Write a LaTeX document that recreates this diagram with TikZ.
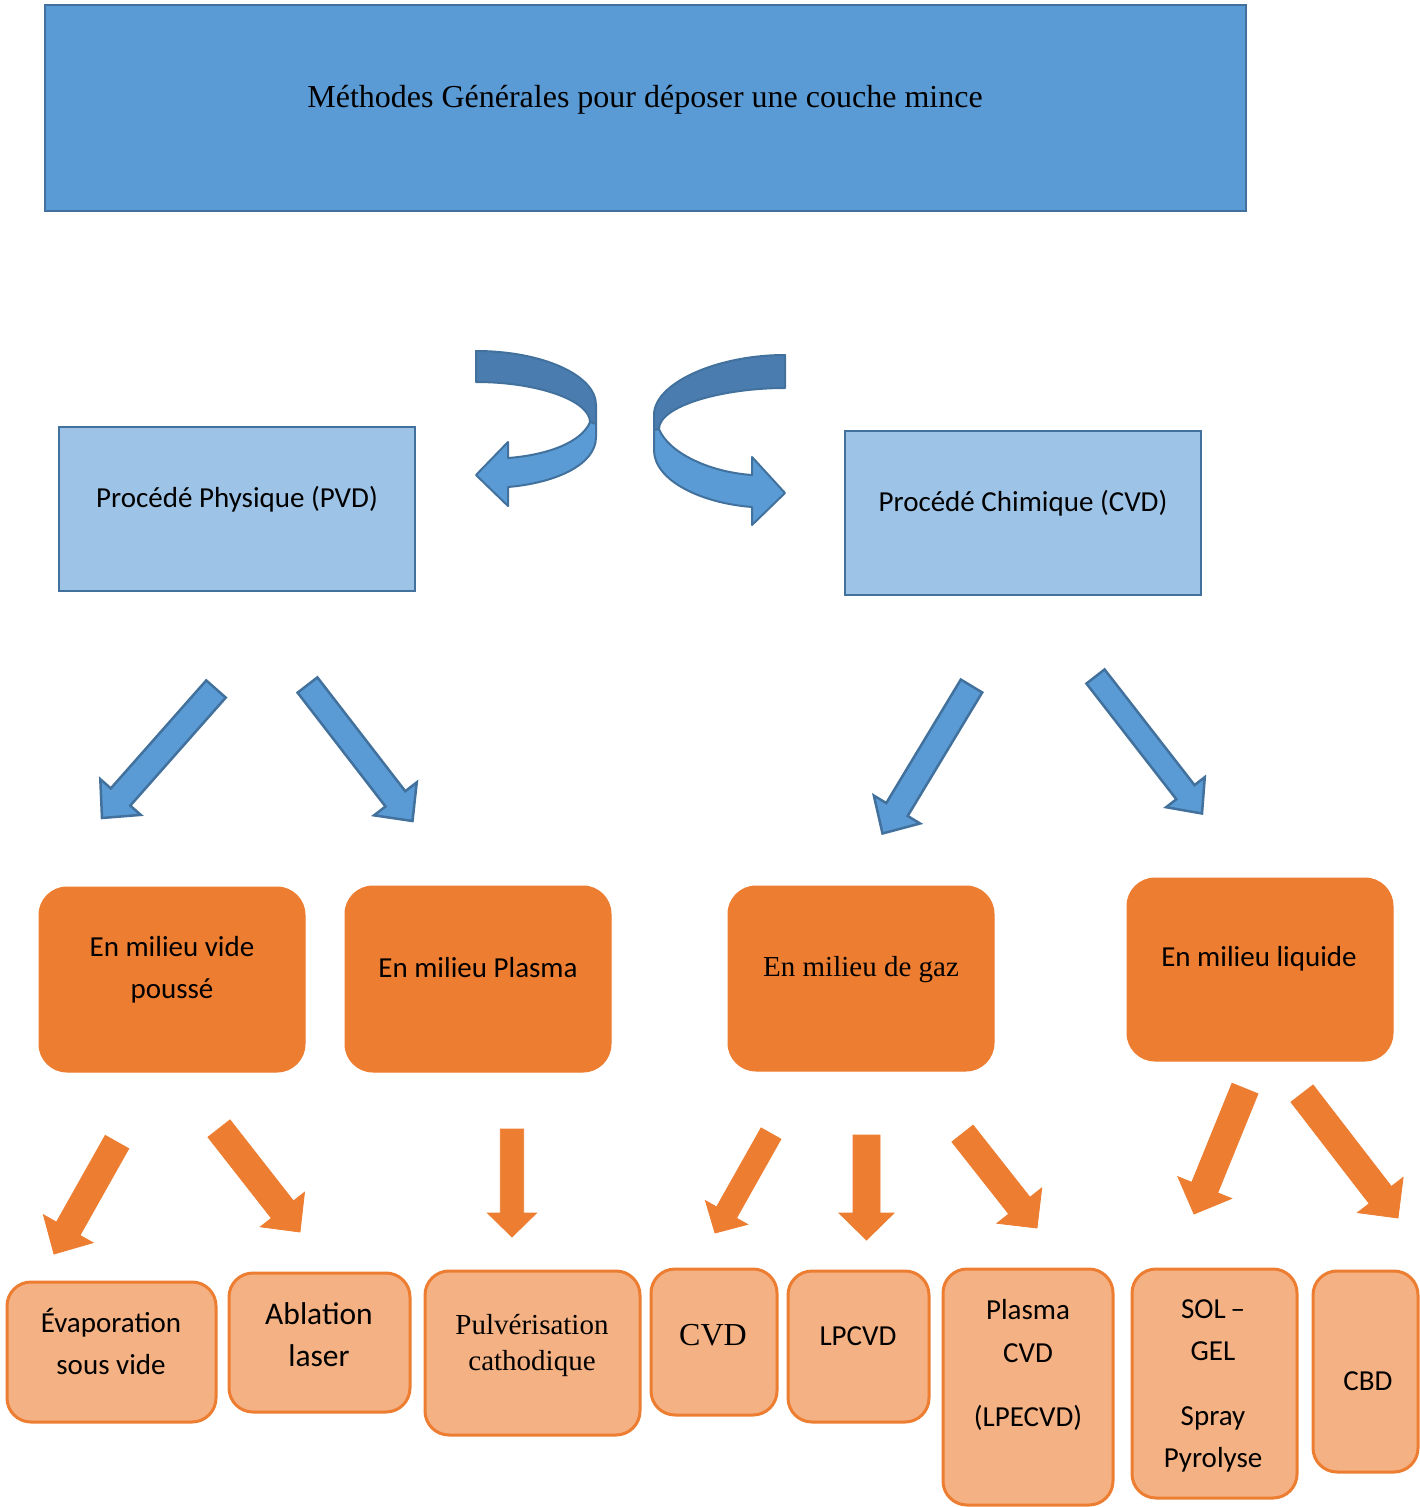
\documentclass[tikz,border=0pt]{standalone}
\usepackage{fontspec}
\setmainfont{Liberation Serif}
\newfontfamily\carl{Carlito}
\usetikzlibrary{calc}
\definecolor{tblue}{HTML}{5B9BD5}
\definecolor{tbord}{HTML}{41719C}
\definecolor{lblue}{HTML}{9DC3E6}
\definecolor{dblue}{HTML}{4A7CB0}
\definecolor{org}{HTML}{ED7D31}
\definecolor{lorg}{HTML}{F4B183}
\newcommand{\blockarr}[6]{%
  \coordinate (ba-H) at ($(#3)!#6!(#2)$);
  \draw[#1] ($(#2)!#4!90:(#3)$) -- ($(ba-H)!#4!90:(#3)$) -- ($(ba-H)!#5!90:(#3)$) -- (#3)
    -- ($(ba-H)!#5!-90:(#3)$) -- ($(ba-H)!#4!-90:(#3)$) -- ($(#2)!#4!-90:(#3)$) -- cycle;
}
\tikzset{
  titlebox/.style={draw=tbord, fill=tblue, line width=2.5pt, inner sep=0pt, outer sep=0pt},
  pbox/.style={draw=tbord, fill=lblue, line width=2.5pt, inner sep=0pt, outer sep=0pt},
  midbox/.style={draw=org, fill=org, line width=1pt, rounded corners=28pt, inner sep=0pt, outer sep=0pt},
  botbox/.style={draw=org, fill=lorg, line width=3pt, rounded corners=24pt, inner sep=0pt, outer sep=0pt},
  barrow/.style={fill=tblue, draw=tbord, line width=2.5pt, line join=miter},
  oarrow/.style={fill=org, draw=org, line width=0.8pt, line join=miter},
  stxt/.style={font=\carl\fontsize{29}{42}\selectfont, align=center, inner sep=0pt, text=black},
  rtxt/.style={font=\fontsize{29}{36}\selectfont, align=center, inner sep=0pt, text=black},
}
\begin{document}
\begin{tikzpicture}[x=1pt,y=-1pt]
\useasboundingbox (0,0) rectangle (1420,1507);

% title
\node[titlebox, minimum width=1201pt, minimum height=206pt] (title) at (645.5,108) {};
\node[rtxt, font=\fontsize{32}{38}\selectfont] (titletxt) at (645,100) {Méthodes Générales pour déposer une couche mince};

% curved arrows
\filldraw[fill=dblue, draw=tbord, line width=2pt, line join=round]
  (476,351) .. controls (542,351) and (596,375) .. (596,405) -- (596,424) -- (590,422)
  .. controls (590,401) and (539,382) .. (476,382) -- cycle;
\filldraw[fill=tblue, draw=tbord, line width=2pt, line join=round]
  (590,422) .. controls (582,442) and (548,455) .. (508,458) -- (508,442) -- (476,475) -- (508,506) -- (508,487)
  .. controls (555,483) and (596,465) .. (596,437) -- (596,424) -- cycle;
\filldraw[fill=dblue, draw=tbord, line width=2pt, line join=round]
  (785,355) .. controls (717,355) and (654,383) .. (654,415) -- (654,430) -- (659,429)
  .. controls (659,406) and (722,388) .. (785,388) -- cycle;
\filldraw[fill=tblue, draw=tbord, line width=2pt, line join=round]
  (659,429) .. controls (668,452) and (708,472) .. (752,475) -- (752,457) -- (785,493) -- (752,525) -- (752,507)
  .. controls (700,503) and (654,480) .. (654,450) -- (654,430) -- cycle;

% PVD / CVD
\node[pbox, minimum width=356pt, minimum height=164pt] (pvd) at (237,509) {};
\node[stxt] (pvdtxt) at (237,499) {Procédé Physique (PVD)};
\node[pbox, minimum width=356pt, minimum height=164pt] (cvd) at (1023,513) {};
\node[stxt] (cvdtxt) at (1023,503) {Procédé Chimique (CVD)};

% blue arrows
\coordinate (b1t) at (216,689);   \coordinate (b1h) at (102,818);
\coordinate (b2t) at (307.5,685); \coordinate (b2h) at (412.5,821);
\coordinate (b3t) at (971.5,686); \coordinate (b3h) at (882.5,833.5);
\coordinate (b4t) at (1095.5,676.5); \coordinate (b4h) at (1202,813.5);
\blockarr{barrow}{b1t}{b1h}{13pt}{27pt}{28pt}
\blockarr{barrow}{b2t}{b2h}{12.5pt}{27pt}{28pt}
\blockarr{barrow}{b3t}{b3h}{12.5pt}{27pt}{28pt}
\blockarr{barrow}{b4t}{b4h}{11.5pt}{24.5pt}{27pt}

% middle boxes
\node[midbox, minimum width=266pt, minimum height=185pt] (m1) at (172,979.5) {};
\node[stxt] (m1txt) at (172,970) {En milieu vide\\poussé};
\node[midbox, minimum width=266pt, minimum height=186pt] (m2) at (478,979) {};
\node[stxt] (m2txt) at (478,968) {En milieu Plasma};
\node[midbox, minimum width=266pt, minimum height=185pt] (m3) at (861,978.5) {};
\node[rtxt] (m3txt) at (861,970) {En milieu de gaz};
\node[midbox, minimum width=266pt, minimum height=183pt] (m4) at (1260,969.5) {};
\node[stxt] (m4txt) at (1259,959) {En milieu liquide};

% orange arrows
\coordinate (o1t) at (117,1142);    \coordinate (o1h) at (54,1254);
\coordinate (o2t) at (219,1128.5);  \coordinate (o2h) at (300,1232);
\coordinate (o3t) at (512,1129);    \coordinate (o3h) at (512,1237);
\coordinate (o4t) at (771,1133.5);  \coordinate (o4h) at (715,1233);
\coordinate (o5t) at (866.5,1135);  \coordinate (o5h) at (866.5,1240);
\coordinate (o6t) at (962.5,1133.5);\coordinate (o6h) at (1037,1228);
\coordinate (o7t) at (1245,1088.5); \coordinate (o7h) at (1194,1214);
\coordinate (o8t) at (1302,1093.5); \coordinate (o8h) at (1398,1218);
\blockarr{oarrow}{o1t}{o1h}{13.5pt}{28.5pt}{29pt}
\blockarr{oarrow}{o2t}{o2h}{14pt}{28pt}{28.5pt}
\blockarr{oarrow}{o3t}{o3h}{11.7pt}{24.5pt}{24pt}
\blockarr{oarrow}{o4t}{o4h}{11.4pt}{24.2pt}{23.5pt}
\blockarr{oarrow}{o5t}{o5h}{13.5pt}{27.5pt}{27pt}
\blockarr{oarrow}{o6t}{o6h}{13.5pt}{28.5pt}{28.5pt}
\blockarr{oarrow}{o7t}{o7h}{14pt}{29pt}{28.5pt}
\blockarr{oarrow}{o8t}{o8h}{14pt}{28.8pt}{29pt}

% bottom boxes
\node[botbox, minimum width=209pt, minimum height=140pt] (f1) at (111.5,1352) {};
\node[stxt] (f1txt) at (111,1341) {Évaporation\\sous vide};
\node[botbox, minimum width=181pt, minimum height=139pt] (f2) at (319.5,1342.5) {};
\node[stxt, font=\carl\fontsize{31.5}{42}\selectfont] (f2txt) at (319,1335) {Ablation\\laser};
\node[botbox, minimum width=215pt, minimum height=164pt] (f3) at (532.5,1353) {};
\node[rtxt] (f3txt) at (532,1345) {Pulvérisation\\cathodique};
\node[botbox, minimum width=126pt, minimum height=146pt] (f4) at (714,1342) {};
\node[rtxt, font=\fontsize{32}{38}\selectfont] (f4txt) at (713,1335) {CVD};
\node[botbox, minimum width=141pt, minimum height=151pt] (f5) at (858.5,1346.5) {};
\node[stxt] (f5txt) at (858,1336) {LPCVD};
\node[botbox, minimum width=170pt, minimum height=236pt] (f6) at (1028,1387) {};
\node[stxt, font=\carl\fontsize{29}{43}\selectfont] (f6txt) at (1028,1364.5) {Plasma\\CVD\\[21pt](LPECVD)};
\node[botbox, minimum width=165pt, minimum height=229pt] (f7) at (1214.5,1383.5) {};
\node[stxt, font=\carl\fontsize{29}{42.5}\selectfont] (f7txt) at (1213,1386) {SOL\,–\\GEL\\[22pt]Spray\\Pyrolyse};
\node[botbox, minimum width=105pt, minimum height=201pt] (f8) at (1365.5,1371.5) {};
\node[stxt] (f8txt) at (1368,1381) {CBD};
\end{tikzpicture}
\end{document}
